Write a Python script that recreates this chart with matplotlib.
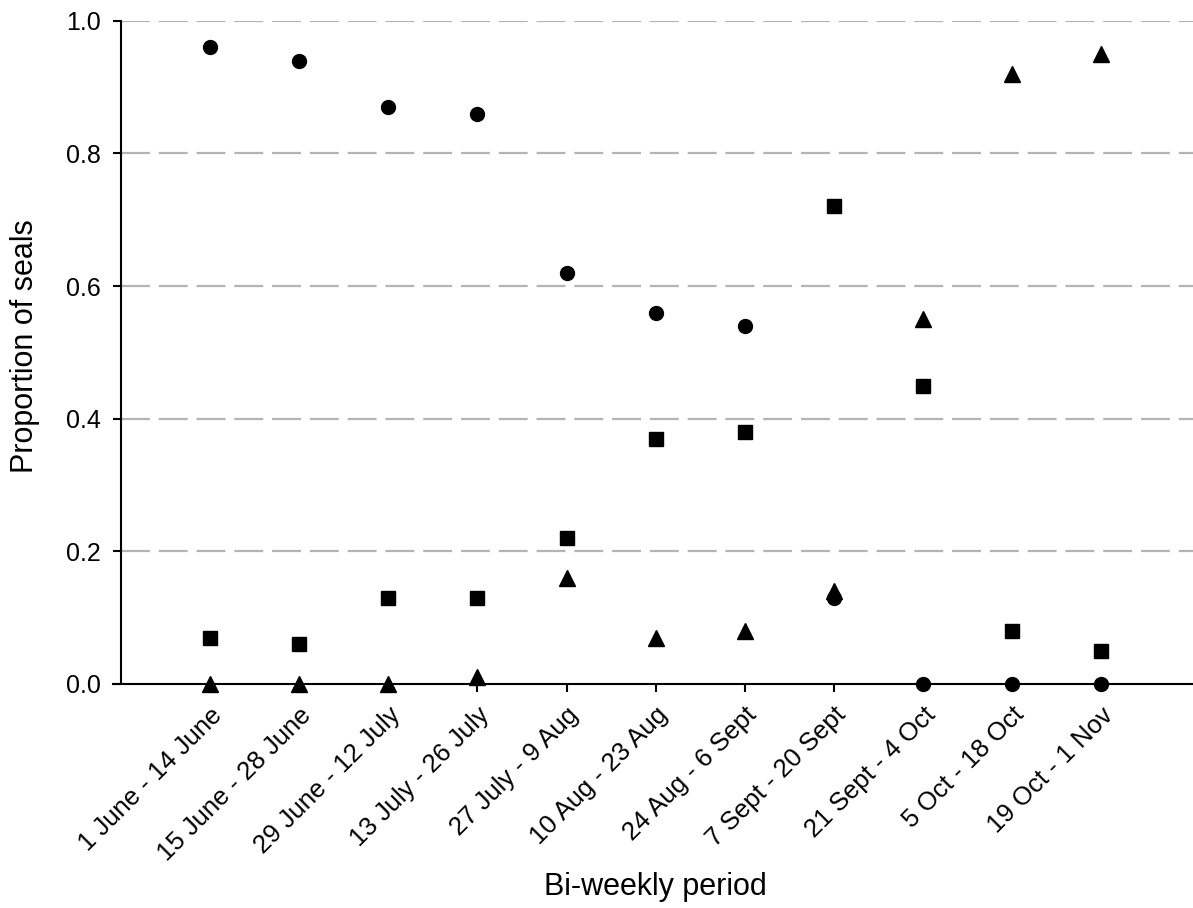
import numpy as np
import matplotlib
matplotlib.use('Agg')
import matplotlib.pyplot as plt

# periodos bi-semanales
periodos = ['1 June - 14 June', '15 June - 28 June', '29 June - 12 July',
            '13 July - 26 July', '27 July - 9 Aug', '10 Aug - 23 Aug',
            '24 Aug - 6 Sept', '7 Sept - 20 Sept', '21 Sept - 4 Oct',
            '5 Oct - 18 Oct', '19 Oct - 1 Nov']

# proporciones (circulos, cuadrados, triangulos)
circulos = [0.96, 0.94, 0.87, 0.86, 0.62, 0.56, 0.54, 0.13, 0.0, 0.0, 0.0]
cuadrados = [0.07, 0.06, 0.13, 0.13, 0.22, 0.37, 0.38, 0.72, 0.45, 0.08, 0.05]
triangulos = [0.0, 0.0, 0.0, 0.01, 0.16, 0.07, 0.08, 0.14, 0.55, 0.92, 0.95]

yticks = [0.0, 0.2, 0.4, 0.6, 0.8, 1.0]

plt.rcParams['font.family'] = ['Liberation Sans', 'DejaVu Sans']

fig = plt.figure(figsize=(11.93, 9.08), dpi=100)
ax = fig.add_axes([0.0947, 0.2467, 0.9053, 0.7305])

x = np.arange(len(periodos))

# lineas de la grilla (discontinuas, grises)
ax.hlines(yticks[1:], -1, 11.03, colors='#b4b4b4', linewidth=1.6,
          linestyles=(0, (13, 4)), zorder=1)

ax.plot(x, circulos, 'o', color='black', markersize=10, clip_on=False, zorder=3)
ax.plot(x, cuadrados, 's', color='black', markersize=10, clip_on=False, zorder=3)
ax.plot(x, triangulos, '^', color='black', markersize=11.5, clip_on=False, zorder=3)

ax.set_xlim(-1.09, 11.03)
ax.set_ylim(0, 1.0)

ax.spines['top'].set_visible(False)
ax.spines['right'].set_visible(False)
ax.spines['left'].set_position(('data', -1))
for s in ['left', 'bottom']:
    ax.spines[s].set_linewidth(1.5)

ax.set_xticks(x)
ax.set_xticklabels(periodos, rotation=45, ha='right', rotation_mode='anchor',
                   fontsize=18.5)
ax.set_yticks(yticks)
ax.set_yticklabels(['%.1f' % v for v in yticks], fontsize=18)
ax.tick_params(axis='both', direction='out', length=5.5, width=1.5, colors='black')
ax.tick_params(axis='x', pad=8)
ax.tick_params(axis='y', pad=9)

ax.set_xlabel('Bi-weekly period', fontsize=22, va='center')
ax.xaxis.set_label_coords(0.502, -0.306)
ax.set_ylabel('Proportion of seals', fontsize=22, va='center')
ax.yaxis.set_label_coords(-0.0815, 0.51)

fig.savefig('out.png', dpi=100)
